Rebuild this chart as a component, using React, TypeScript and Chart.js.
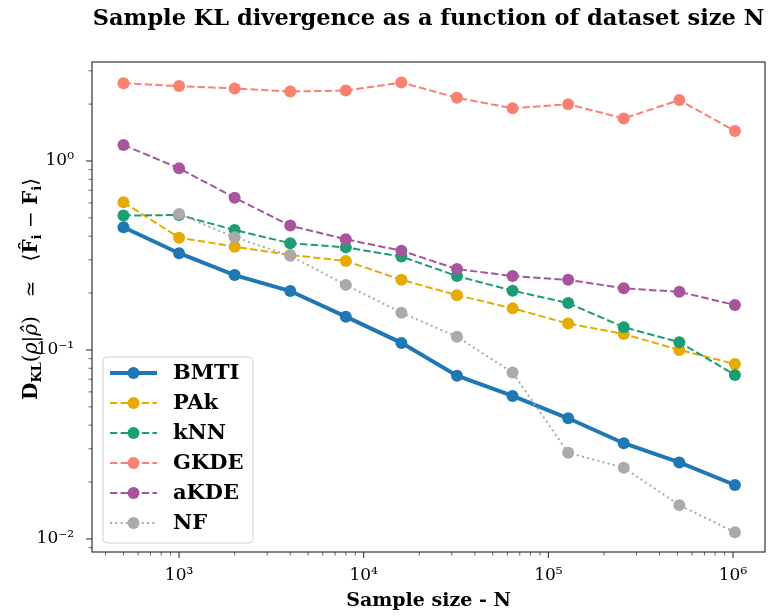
import React, { useEffect, useRef } from 'react';
import { Chart, registerables } from 'chart.js';
Chart.register(...registerables);

const sampleSizes = [500, 1000, 2000, 4000, 8000, 16000, 32000, 64000, 128000, 256000, 512000, 1024000];
const bmti = [0.446, 0.325, 0.249, 0.205, 0.150, 0.109, 0.0731, 0.0571, 0.0435, 0.0321, 0.0254, 0.0193];
const pak = [0.605, 0.393, 0.352, 0.318, 0.296, 0.235, 0.195, 0.166, 0.138, 0.1215, 0.100, 0.0843];
const knn = [0.514, 0.518, 0.431, 0.367, 0.349, 0.312, 0.246, 0.206, 0.177, 0.132, 0.110, 0.0738];
const gkde = [2.58, 2.49, 2.42, 2.33, 2.36, 2.60, 2.16, 1.90, 1.995, 1.68, 2.10, 1.44];
const akde = [1.215, 0.915, 0.639, 0.455, 0.385, 0.335, 0.268, 0.246, 0.235, 0.212, 0.203, 0.173];
const nf: (number | null)[] = [null, 0.524, 0.395, 0.315, 0.221, 0.1575, 0.1175, 0.0759, 0.0286, 0.0238, 0.0151, 0.01085];

const seriesNames = ['BMTI', 'PAk', 'kNN', 'GKDE', 'aKDE', 'NF'];
const seriesColors = ['#1f77b4', '#e6ab02', '#1b9e77', '#fa8072', '#a6559d', '#aaaaaa'];

const xMajorTicks = [1e3, 1e4, 1e5, 1e6];
const yMajorTicks = [0.01, 0.1, 1];
const xRange = [337.7, 1.49e6];
const yRange = [0.00853, 3.34];

const titleText = 'Sample KL divergence as a function of dataset size N';
const xTitle = 'Sample size - N';

const SERIF = "'DejaVu Serif', 'Liberation Serif', serif";

const supDigits: Record<string, string> = { '0': '⁰', '1': '¹', '2': '²', '3': '³', '4': '⁴', '5': '⁵', '6': '⁶', '7': '⁷', '8': '⁸', '9': '⁹', '-': '⁻' };
function powLabel(v: number): string {
  const e = Math.round(Math.log10(v));
  return '10' + String(e).split('').map((c) => supDigits[c] || c).join('');
}
function isMajor(v: number): boolean {
  const e = Math.log10(v);
  return Math.abs(e - Math.round(e)) < 1e-9;
}
function logTicks(min: number, max: number): number[] {
  const out: number[] = [];
  for (let e = Math.floor(Math.log10(min)); e <= Math.ceil(Math.log10(max)); e++) {
    for (let m = 1; m <= 9; m++) {
      const v = m * Math.pow(10, e);
      const vv = parseFloat(v.toPrecision(6));
      if (vv >= min && vv <= max) out.push(vv);
    }
  }
  return out;
}

const framePlugin = {
  id: 'frameTicks',
  afterDraw(chart: any) {
    const { ctx, chartArea } = chart;
    const xs = chart.scales.x;
    const ys = chart.scales.y;
    ctx.save();
    ctx.strokeStyle = '#222';
    xs.ticks.forEach((t: any) => {
      const major = isMajor(t.value);
      const px = xs.getPixelForValue(t.value);
      ctx.lineWidth = major ? 1 : 0.7;
      ctx.beginPath();
      ctx.moveTo(px, chartArea.bottom);
      ctx.lineTo(px, chartArea.bottom + (major ? 6 : 3.5));
      ctx.stroke();
    });
    ys.ticks.forEach((t: any) => {
      const major = isMajor(t.value);
      const py = ys.getPixelForValue(t.value);
      ctx.lineWidth = major ? 1 : 0.7;
      ctx.beginPath();
      ctx.moveTo(chartArea.left, py);
      ctx.lineTo(chartArea.left - (major ? 6 : 3.5), py);
      ctx.stroke();
    });
    ctx.lineWidth = 1.2;
    ctx.strokeStyle = '#333';
    ctx.strokeRect(chartArea.left, chartArea.top, chartArea.right - chartArea.left, chartArea.bottom - chartArea.top);

    // Legend
    const lx = chartArea.left + 11;
    const ly = chartArea.bottom - 195;
    const lw = 150;
    const lh = 186;
    ctx.beginPath();
    const r = 4;
    ctx.moveTo(lx + r, ly);
    ctx.lineTo(lx + lw - r, ly);
    ctx.quadraticCurveTo(lx + lw, ly, lx + lw, ly + r);
    ctx.lineTo(lx + lw, ly + lh - r);
    ctx.quadraticCurveTo(lx + lw, ly + lh, lx + lw - r, ly + lh);
    ctx.lineTo(lx + r, ly + lh);
    ctx.quadraticCurveTo(lx, ly + lh, lx, ly + lh - r);
    ctx.lineTo(lx, ly + r);
    ctx.quadraticCurveTo(lx, ly, lx + r, ly);
    ctx.closePath();
    ctx.fillStyle = 'rgba(255,255,255,0.85)';
    ctx.fill();
    ctx.strokeStyle = '#d0d0d0';
    ctx.lineWidth = 1;
    ctx.stroke();
    const byName: Record<string, any> = {};
    chart.data.datasets.forEach((ds: any) => { byName[ds.label] = ds; });
    seriesNames.forEach((name, i) => {
      const ds = byName[name];
      const y = ly + 16 + i * 30;
      ctx.save();
      ctx.strokeStyle = ds.borderColor;
      ctx.lineWidth = ds.borderWidth;
      ctx.setLineDash(ds.borderDash || []);
      ctx.beginPath();
      ctx.moveTo(lx + 7, y);
      ctx.lineTo(lx + 54, y);
      ctx.stroke();
      ctx.setLineDash([]);
      ctx.fillStyle = ds.pointBackgroundColor;
      ctx.beginPath();
      ctx.arc(lx + 30.5, y, 6, 0, Math.PI * 2);
      ctx.fill();
      ctx.restore();
      ctx.fillStyle = '#000';
      ctx.font = `bold 21px ${SERIF}`;
      ctx.textBaseline = 'middle';
      ctx.textAlign = 'left';
      ctx.fillText(ds.label, lx + 70, y + 1);
    });

    // Y axis title with subscripts
    const pieces: { t: string; f: string; sub?: boolean }[] = [
      { t: 'D', f: `bold 20px ${SERIF}` },
      { t: 'KL', f: `bold 13px ${SERIF}`, sub: true },
      { t: '(', f: `20px ${SERIF}` },
      { t: 'ρ', f: `italic 20px ${SERIF}` },
      { t: '|', f: `20px ${SERIF}` },
      { t: 'ρ̂', f: `italic 20px ${SERIF}` },
      { t: ')', f: `20px ${SERIF}` },
      { t: '   ≃   ', f: `20px ${SERIF}` },
      { t: '⟨', f: `20px ${SERIF}` },
      { t: 'F̂', f: `bold 20px ${SERIF}` },
      { t: 'i', f: `bold 13px ${SERIF}`, sub: true },
      { t: ' − ', f: `20px ${SERIF}` },
      { t: 'F', f: `bold 20px ${SERIF}` },
      { t: 'i', f: `bold 13px ${SERIF}`, sub: true },
      { t: '⟩', f: `20px ${SERIF}` },
    ];
    let total = 0;
    pieces.forEach((p) => {
      ctx.font = p.f;
      total += ctx.measureText(p.t).width;
    });
    ctx.translate(30, 289);
    ctx.rotate(-Math.PI / 2);
    let cx = -total / 2;
    ctx.fillStyle = '#000';
    ctx.textAlign = 'left';
    ctx.textBaseline = 'alphabetic';
    pieces.forEach((p) => {
      ctx.font = p.f;
      ctx.fillText(p.t, cx, p.sub ? 11 : 7);
      cx += ctx.measureText(p.t).width;
    });
    ctx.restore();
  },
};

function toPoints(vals: (number | null)[]) {
  return sampleSizes
    .map((n, i) => ({ x: n, y: vals[i] }))
    .filter((p) => p.y !== null);
}

export default function App() {
  const ref = useRef<HTMLCanvasElement>(null);
  useEffect(() => {
    if (!ref.current) return;
    const all = [bmti, pak, knn, gkde, akde, nf];
    const dashes = [[], [7.4, 3.2], [7.4, 3.2], [7.4, 3.2], [7.4, 3.2], [2, 3.3]];
    const widths = [4, 2, 2, 2, 2, 2];
    const datasets = seriesNames.map((name, i) => ({
      label: name,
      data: toPoints(all[i]),
      borderColor: seriesColors[i],
      backgroundColor: seriesColors[i],
      pointBackgroundColor: seriesColors[i],
      pointBorderColor: seriesColors[i],
      pointBorderWidth: 0,
      pointRadius: 6,
      borderWidth: widths[i],
      borderDash: dashes[i],
      fill: false,
      tension: 0,
      order: seriesNames.length - i,
    }));
    const chart = new Chart(ref.current, {
      type: 'line',
      data: { datasets },
      options: {
        animation: false,
        responsive: false,
        maintainAspectRatio: false,
        layout: { padding: { left: 0, right: 6, top: 0, bottom: 0 } },
        plugins: {
          legend: { display: false },
          tooltip: { enabled: false },
          title: {
            display: true,
            text: titleText,
            fullSize: false,
            color: '#000',
            font: { family: SERIF, size: 22.5, weight: 'bold' },
            padding: { top: 6, bottom: 29 },
          },
        },
        scales: {
          x: {
            type: 'logarithmic',
            min: xRange[0],
            max: xRange[1],
            grid: { display: false },
            border: { display: false },
            afterBuildTicks: (s: any) => {
              s.ticks = logTicks(xRange[0], xRange[1]).map((v) => ({ value: v }));
            },
            afterFit: (s: any) => {
              s.height = 64;
            },
            ticks: {
              autoSkip: false,
              maxRotation: 0,
              padding: 5,
              color: '#000',
              font: { family: SERIF, size: 17 },
              callback: (v: any) => (xMajorTicks.some((m) => Math.abs(m - v) / m < 1e-6) ? powLabel(v) : ''),
            },
            title: {
              display: true,
              text: xTitle,
              color: '#000',
              font: { family: SERIF, size: 19, weight: 'bold' },
              padding: { top: 0, bottom: 4 },
            },
          },
          y: {
            type: 'logarithmic',
            min: yRange[0],
            max: yRange[1],
            grid: { display: false },
            border: { display: false },
            afterBuildTicks: (s: any) => {
              s.ticks = logTicks(yRange[0], yRange[1]).map((v) => ({ value: v }));
            },
            afterFit: (s: any) => {
              s.width = 92;
            },
            ticks: {
              autoSkip: false,
              padding: 10,
              color: '#000',
              font: { family: SERIF, size: 17 },
              callback: (v: any) => (yMajorTicks.some((m) => Math.abs(m - v) / m < 1e-6) ? powLabel(v) : ''),
            },
          },
        },
      },
      plugins: [framePlugin],
    } as any);
    return () => chart.destroy();
  }, []);
  return (
    <div style={{ position: 'absolute', left: 0, top: 0, width: 771, height: 616, background: '#fff' }}>
      <canvas ref={ref} width={771} height={616} style={{ width: 771, height: 616 }} />
    </div>
  );
}
